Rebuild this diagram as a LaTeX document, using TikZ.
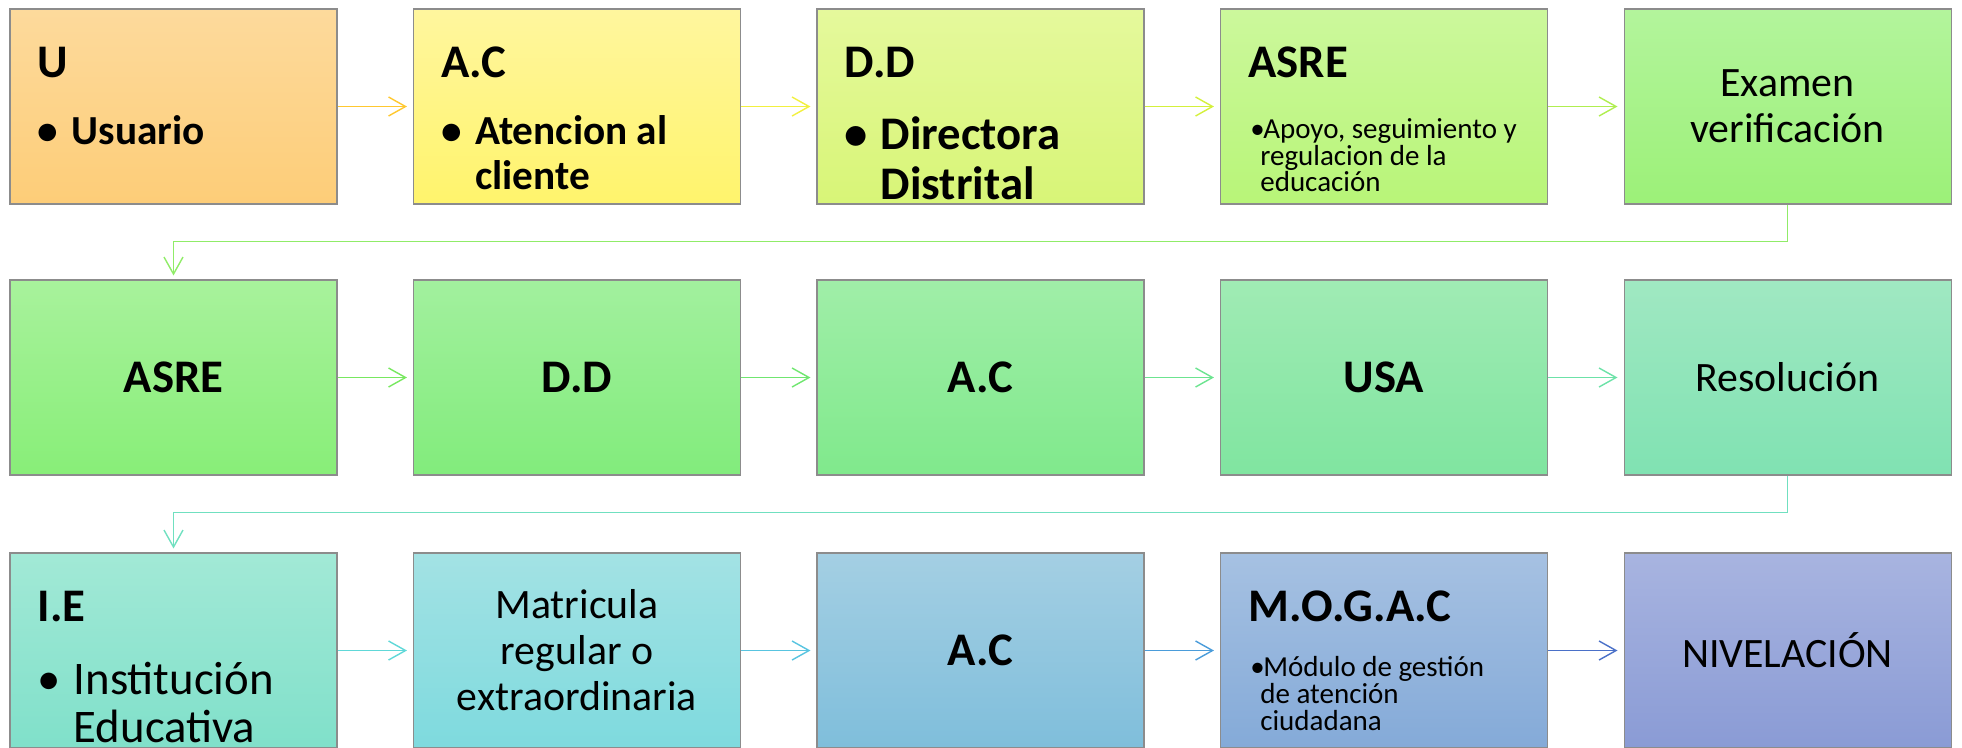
\documentclass[tikz,border=0pt]{standalone}
\usepackage{fontspec}
\setmainfont{Carlito}
\usepackage{xcolor}
\usetikzlibrary{arrows.meta,positioning}

% box fills, top / bottom
\definecolor{uT}{HTML}{FDDA9C}\definecolor{uB}{HTML}{FDCD78}
\definecolor{acT}{HTML}{FFF69E}\definecolor{acB}{HTML}{FFF46C}
\definecolor{ddT}{HTML}{E5F99C}\definecolor{ddB}{HTML}{D8F577}
\definecolor{asT}{HTML}{CCF89C}\definecolor{asB}{HTML}{B8F578}
\definecolor{exT}{HTML}{B3F49C}\definecolor{exB}{HTML}{9CF178}
\definecolor{r2aT}{HTML}{A8F29C}\definecolor{r2aB}{HTML}{88EE78}
\definecolor{r2bT}{HTML}{A2F09E}\definecolor{r2bB}{HTML}{82EC7C}
\definecolor{r2cT}{HTML}{A0EEA8}\definecolor{r2cB}{HTML}{80E98C}
\definecolor{r2dT}{HTML}{A0EBB4}\definecolor{r2dB}{HTML}{80E5A0}
\definecolor{r2eT}{HTML}{A0E8C2}\definecolor{r2eB}{HTML}{80E2B2}
\definecolor{r3aT}{HTML}{A2E9D6}\definecolor{r3aB}{HTML}{80E0CA}
\definecolor{r3bT}{HTML}{A3E2E4}\definecolor{r3bB}{HTML}{7EDADE}
\definecolor{r3cT}{HTML}{A4CFE3}\definecolor{r3cB}{HTML}{7FBEDB}
\definecolor{r3dT}{HTML}{A6C1E2}\definecolor{r3dB}{HTML}{84AAD8}
\definecolor{r3eT}{HTML}{A8B4E0}\definecolor{r3eB}{HTML}{8A9BD5}

\begin{document}
\begin{tikzpicture}[
  blk/.style={draw=black!45, line width=0.6pt, minimum width=6.54cm, minimum height=3.9cm, inner sep=0pt, align=center},
  hd/.style={anchor=base west, inner sep=0pt, font=\fontsize{26.6}{28}\selectfont\bfseries},
  big/.style={font=\fontsize{26.6}{28}\selectfont\bfseries},
  txt/.style={font=\fontsize{23.8}{26.2}\selectfont},
  bd/.style={anchor=base west, inner sep=0pt, align=left},
  edge/.style={-{Straight Barb[length=3.4mm,width=3.8mm]}, line width=0.8pt, shorten >=0.12cm}
]
\useasboundingbox (0,0) rectangle (39.24,-14.94);

% first row
\node[blk, top color=uT, bottom color=uB] (u) at (3.47,-2.13) {};
\node[blk, top color=acT, bottom color=acB] (ac) at (11.54,-2.13) {};
\node[blk, top color=ddT, bottom color=ddB] (dd) at (19.61,-2.13) {};
\node[blk, top color=asT, bottom color=asB] (asre) at (27.68,-2.13) {};
\node[blk, txt, top color=exT, bottom color=exB] (exam) at (35.75,-2.13) {Examen\\verificación};

% base of the last line
\node[hd] (uH) at ([shift={(0.56,-1.38)}]u.north west) {U};
\node[bd, font=\fontsize{23.5}{25.5}\selectfont\bfseries] (uL) at ([shift={(0.56,-2.72)}]u.north west) {\makebox[0.68cm][l]{•}Usuario};
\node[hd] (acH) at ([shift={(0.56,-1.38)}]ac.north west) {A.C};
\node[bd, font=\fontsize{23.5}{25.5}\selectfont\bfseries] (acL) at ([shift={(0.56,-3.62)}]ac.north west) {\makebox[0.68cm][l]{•}Atencion al\\\hspace*{0.68cm}cliente};
\node[hd] (ddH) at ([shift={(0.56,-1.38)}]dd.north west) {D.D};
\node[bd, font=\fontsize{26.6}{28.3}\selectfont\bfseries] (ddL) at ([shift={(0.56,-3.82)}]dd.north west) {\makebox[0.72cm][l]{•}Directora\\\hspace*{0.72cm}Distrital};
\node[hd] (asH) at ([shift={(0.56,-1.38)}]asre.north west) {ASRE};
\node[bd, font=\fontsize{16.5}{15}\selectfont] (asL) at ([shift={(0.6,-3.66)}]asre.north west) {\makebox[0.26cm][l]{•}Apoyo, seguimiento y\\\hspace*{0.2cm}regulacion de la\\\hspace*{0.2cm}educación};

% second row
\node[blk, big, top color=r2aT, bottom color=r2aB] (asreB) at (3.47,-7.55) {ASRE};
\node[blk, big, top color=r2bT, bottom color=r2bB] (ddB) at (11.54,-7.55) {D.D};
\node[blk, big, top color=r2cT, bottom color=r2cB] (acB) at (19.61,-7.55) {A.C};
\node[blk, big, top color=r2dT, bottom color=r2dB] (usa) at (27.68,-7.55) {USA};
\node[blk, txt, top color=r2eT, bottom color=r2eB] (res) at (35.75,-7.55) {Resolución};

% third row
\node[blk, top color=r3aT, bottom color=r3aB] (ie) at (3.47,-13.01) {};
\node[blk, txt, top color=r3bT, bottom color=r3bB] (mat) at (11.54,-13.01) {Matricula\\regular o\\extraordinaria};
\node[blk, big, top color=r3cT, bottom color=r3cB] (acC) at (19.61,-13.01) {A.C};
\node[blk, top color=r3dT, bottom color=r3dB] (mogac) at (27.68,-13.01) {};
\node[blk, txt, top color=r3eT, bottom color=r3eB] (niv) at (35.75,-13.01) {NIVELACIÓN};

\node[hd] (ieH) at ([shift={(0.56,-1.38)}]ie.north west) {I.E};
\node[bd, font=\fontsize{26.6}{27.2}\selectfont] (ieL) at ([shift={(0.56,-3.80)}]ie.north west) {\makebox[0.72cm][l]{•}Institución\\\hspace*{0.72cm}Educativa};
\node[hd] (mogH) at ([shift={(0.56,-1.38)}]mogac.north west) {M.O.G.A.C};
\node[bd, font=\fontsize{16.5}{15.3}\selectfont] (mogL) at ([shift={(0.6,-3.56)}]mogac.north west) {\makebox[0.26cm][l]{•}Módulo de gestión\\\hspace*{0.2cm}de atención\\\hspace*{0.2cm}ciudadana};

% connectors
\draw[edge, draw={rgb,255:red,255;green,200;blue,48}] (u.east) -- (ac.west);
\draw[edge, draw={rgb,255:red,242;green,240;blue,64}] (ac.east) -- (dd.west);
\draw[edge, draw={rgb,255:red,212;green,240;blue,60}] (dd.east) -- (asre.west);
\draw[edge, draw={rgb,255:red,176;green,238;blue,80}] (asre.east) -- (exam.west);
\draw[edge, draw={rgb,255:red,144;green,236;blue,104}, shorten >=0.08cm] (exam.south) -- ++(0,-0.74) -| (asreB.north);

\draw[edge, draw={rgb,255:red,120;green,232;blue,96}] (asreB.east) -- (ddB.west);
\draw[edge, draw={rgb,255:red,112;green,230;blue,112}] (ddB.east) -- (acB.west);
\draw[edge, draw={rgb,255:red,108;green,228;blue,144}] (acB.east) -- (usa.west);
\draw[edge, draw={rgb,255:red,108;green,226;blue,168}] (usa.east) -- (res.west);
\draw[edge, draw={rgb,255:red,112;green,224;blue,192}, shorten >=0.08cm] (res.south) -- ++(0,-0.74) -| (ie.north);

\draw[edge, draw={rgb,255:red,96;green,216;blue,216}] (ie.east) -- (mat.west);
\draw[edge, draw={rgb,255:red,88;green,196;blue,224}] (mat.east) -- (acC.west);
\draw[edge, draw={rgb,255:red,74;green,156;blue,218}] (acC.east) -- (mogac.west);
\draw[edge, draw={rgb,255:red,74;green,112;blue,200}] (mogac.east) -- (niv.west);
\end{tikzpicture}
\end{document}
